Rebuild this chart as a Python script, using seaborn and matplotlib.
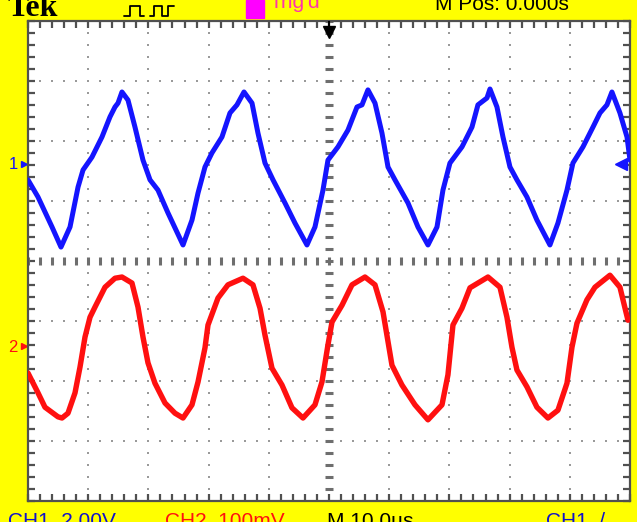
import numpy as np
import pandas as pd
import seaborn as sns
import matplotlib.pyplot as plt
from matplotlib.patches import Rectangle
from matplotlib.lines import Line2D

# CH1: time in microseconds, voltage in volts
ch1_t = [0.0, 1.66, 3.99, 5.48, 6.98, 8.31, 9.14, 10.63, 12.29, 13.62, 14.45, 14.95,
         15.61, 16.61, 17.77, 19.10, 20.27, 21.59, 23.25, 25.75, 27.24, 28.24, 29.40,
         30.56, 32.22, 33.55, 34.71, 35.88, 37.21, 38.20, 39.37, 40.70, 42.69, 44.35,
         46.34, 47.67, 49.00, 49.83, 51.49, 53.15, 54.65, 55.48, 56.47, 57.64, 58.80,
         59.80, 60.96, 63.12, 64.78, 66.44, 67.94, 68.93, 70.09, 72.09, 73.75, 74.74,
         76.24, 76.74, 77.90, 78.90, 80.06, 81.22, 82.88, 84.54, 86.70, 88.03, 89.53,
         90.52, 92.19, 93.85, 95.01, 96.17, 97.00, 98.33, 99.50, 100.0]
ch1_v = [-0.53, -1.10, -2.10, -2.77, -2.10, -0.77, -0.20, 0.23, 0.90, 1.57, 1.90, 2.03,
         2.40, 2.13, 1.23, 0.13, -0.53, -0.87, -1.63, -2.70, -1.87, -0.97, -0.10,
         0.37, 0.90, 1.70, 1.97, 2.40, 2.03, 1.03, 0.03, -0.53, -1.30, -1.97,
         -2.70, -2.10, -0.87, 0.13, 0.57, 1.13, 1.90, 1.97, 2.47, 2.03, 1.03,
         -0.10, -0.53, -1.30, -2.10, -2.70, -2.10, -0.87, 0.03, 0.57, 1.23, 1.97,
         2.20, 2.50, 1.90, 0.90, -0.10, -0.53, -1.10, -1.87, -2.70, -1.97, -0.87,
         0.03, 0.57, 1.23, 1.70, 1.97, 2.40, 1.70, 0.90, 0.13]

# CH2: time in microseconds, voltage in millivolts
ch2_t = [0.0, 1.66, 2.82, 4.98, 5.65, 6.64, 7.81, 8.64, 9.47, 10.30, 11.13, 12.79,
         14.45, 15.61, 17.27, 18.27, 19.10, 19.93, 21.09, 22.76, 24.42, 25.75, 27.24,
         28.24, 29.40, 29.90, 31.56, 33.22, 35.71, 37.37, 38.54, 39.37, 40.53, 42.19,
         43.85, 45.68, 47.67, 48.83, 49.83, 50.50, 52.16, 53.82, 55.98, 57.64, 58.97,
         60.46, 62.12, 64.28, 66.44, 68.77, 69.76, 70.59, 72.09, 73.42, 76.41, 78.40,
         79.56, 80.39, 81.22, 82.88, 84.54, 86.37, 88.03, 89.53, 90.36, 91.19, 92.85,
         94.18, 96.67, 98.33, 99.66]
ch2_mv = [-45, -78, -102, -118, -120, -112, -78, -35, 15, 48, 65, 98,
          113, 115, 105, 65, 15, -28, -62, -95, -112, -120, -98,
          -60, -3, 35, 80, 102, 113, 102, 63, 18, -37, -65,
          -103, -120, -98, -60, 2, 40, 68, 102, 115, 102, 57,
          -32, -65, -98, -123, -98, -48, 35, 63, 97, 115, 98,
          48, -2, -40, -68, -102, -120, -107, -62, -2, 38, 77,
          98, 118, 98, 43]

ch1_scale = 2.0      # V/div
ch2_scale = 100.0    # mV/div
ch1_pos = 1.617      # div (ground marker "1")
ch2_pos = -1.417     # div (ground marker "2")
time_per_div = 10.0  # us/div
trig_level_v = 0.0

top_labels = ["Tek", "Trig'd", "M Pos: 0.000s"]
bottom_labels = ["CH1  2.00V", "CH2  100mV", "M 10.0\u00b5s", "CH1  /"]

# ---------------- figure ----------------
sns.set_theme(style="white")
plt.rcParams['font.family'] = ['Liberation Sans', 'DejaVu Sans']

W, H = 637, 522
fig = plt.figure(figsize=(W / 100, H / 100), dpi=100, facecolor='#FFFF00')
L, R, T, B = 28, 630, 21, 501
ax = fig.add_axes([L / W, 1 - B / H, (R - L) / W, (B - T) / H])
ax.set_facecolor('white')

xmax = 10 * time_per_div
ax.set_xlim(0, xmax)
ax.set_ylim(-4, 4)

# graticule dots
ys = np.arange(-4, 4.001, 0.2)
xs = np.arange(0, xmax + 0.001, time_per_div / 5)
for gx in np.arange(time_per_div, xmax, time_per_div):
    if abs(gx - xmax / 2) < 1e-6:
        continue
    ax.plot(np.full_like(ys, gx), ys, ls='none', marker='s', ms=1.8,
            mew=0, color='#9a9a9a', zorder=1)
for gy in range(-3, 4):
    if gy == 0:
        continue
    ax.plot(xs, np.full_like(xs, gy), ls='none', marker='s', ms=1.8,
            mew=0, color='#9a9a9a', zorder=1)
# centre lines with dashes
ax.plot(np.full_like(ys, xmax / 2), ys, ls='none', marker='_', ms=6,
        mew=2.2, color='#6e6e6e', zorder=1)
ax.plot(xs, np.zeros_like(xs), ls='none', marker='|', ms=6,
        mew=2.2, color='#6e6e6e', zorder=1)

# traces
df1 = pd.DataFrame({'t': ch1_t, 'div': np.array(ch1_v) / ch1_scale + ch1_pos})
df2 = pd.DataFrame({'t': ch2_t, 'div': np.array(ch2_mv) / ch2_scale + ch2_pos})
sns.lineplot(data=df1, x='t', y='div', ax=ax, color='#1414FF', linewidth=3.6,
             estimator=None, sort=False, zorder=3)
sns.lineplot(data=df2, x='t', y='div', ax=ax, color='#FF1010', linewidth=3.9,
             estimator=None, sort=False, zorder=3)
for ln in ax.lines[-2:]:
    ln.set_solid_joinstyle('round')
    ln.set_solid_capstyle('round')
ax.set_xlabel('')
ax.set_ylabel('')

# border ticks
ax.set_xticks(xs)
ax.set_yticks(ys)
ax.tick_params(axis='both', which='major', direction='in', length=5, width=1.6,
               color='#505050', top=True, right=True, bottom=True, left=True,
               labelbottom=False, labelleft=False)
for s in ax.spines.values():
    s.set_color('#505050')
    s.set_linewidth(1.6)

# trigger position arrow
ax.plot([xmax / 2, xmax / 2], [4, 3.85], color='black', lw=1.5, zorder=4)
ax.plot([xmax / 2], [3.82], marker='v', ms=9, color='black', zorder=4)
# trigger level marker (right)
ax.plot([xmax * 0.985], [trig_level_v / ch1_scale + ch1_pos], marker='<', ms=9,
        color='#1414FF', zorder=4, clip_on=False)
# channel ground markers (left)
ax.plot([-0.6], [ch1_pos], marker='>', ms=5, color='#1414FF', clip_on=False)
ax.plot([-0.6], [ch2_pos], marker='>', ms=5, color='#FF1010', clip_on=False)


def ypix(py):
    return 1 - py / H


fig.text(9 / W, ypix(169), '1', color='#1414FF', fontsize=12)
fig.text(8 / W, ypix(352), '2', color='#FF1010', fontsize=12)

# top bar
fig.text(8 / W, ypix(16), top_labels[0], fontsize=23, fontweight='bold',
         family=['Liberation Serif', 'DejaVu Serif'], color='black', va='baseline')
fig.add_artist(Line2D(np.array([124, 130, 130, 140, 140, 144]) / W,
                      ypix(np.array([16, 16, 6, 6, 16, 16])), color='black', lw=1.3))
fig.add_artist(Line2D(np.array([150, 154, 154, 162, 162, 168, 168, 174]) / W,
                      ypix(np.array([16, 16, 6, 6, 16, 16, 6, 6])), color='black', lw=1.3))
fig.add_artist(Rectangle((246 / W, ypix(18)), 18 / W, 18 / H, color='#FF00FF',
                         transform=fig.transFigure))
fig.text(270 / W, ypix(8), top_labels[1], fontsize=15, color='#FF33AA', va='baseline')
fig.text(435 / W, ypix(10), top_labels[2], fontsize=15, color='black', va='baseline')

# bottom bar
fig.text(8 / W, ypix(527), bottom_labels[0], fontsize=15, color='#1010CC', va='baseline')
fig.text(165 / W, ypix(527), bottom_labels[1], fontsize=15, color='#FF1010', va='baseline')
fig.text(327 / W, ypix(527), bottom_labels[2], fontsize=15, color='black', va='baseline')
fig.text(546 / W, ypix(527), bottom_labels[3], fontsize=15, color='#1010CC', va='baseline')

fig.savefig('out.png', dpi=100, facecolor=fig.get_facecolor())
